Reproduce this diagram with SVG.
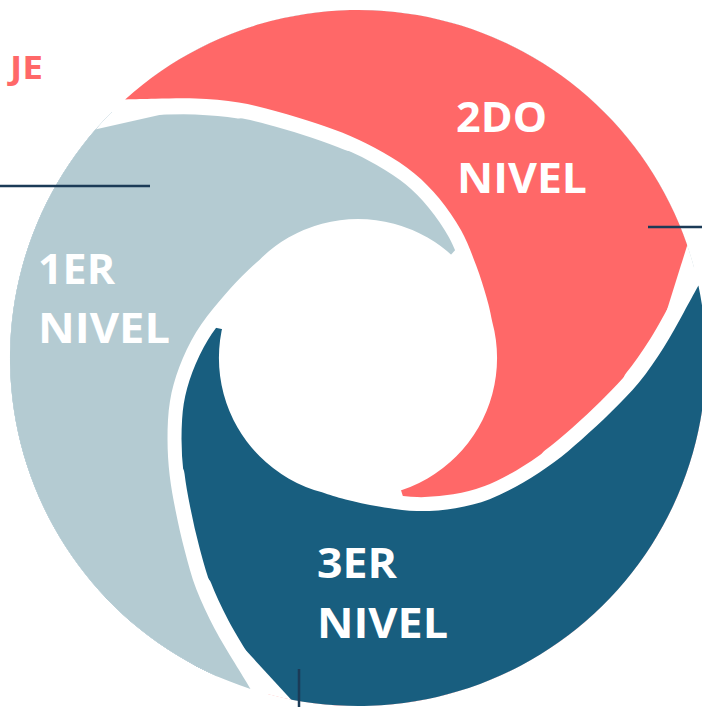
<svg xmlns="http://www.w3.org/2000/svg" width="702" height="707" viewBox="0 0 702 707">
<defs>
<style>
.lbl{font-family:"Open Sans","Liberation Sans",sans-serif;font-weight:700;font-size:42px;fill:#ffffff}
.tag{font-family:"Open Sans","Liberation Sans",sans-serif;font-weight:700;font-size:32px;fill:#FF6868}
.conn{stroke:#1b3b57;stroke-width:2.5;fill:none}
.gap{fill:none;stroke:#000000;stroke-linecap:round}
</style>
<path id="U" d="M125.1,99.4 A348,348 0 1 1 267.9,694.1 L322.0,492.3 A139,139 0 0 0 492.3,322.0 C490.7,314.0 489.4,307.4 486.7,298.0 C484.0,288.6 480.5,276.8 476.2,265.6 C472.0,254.4 467.4,241.8 461.2,230.6 C455.1,219.4 447.1,208.0 439.3,198.5 C431.5,189.0 423.8,181.1 414.4,173.4 C405.1,165.8 393.9,158.8 383.2,152.6 C372.5,146.4 361.4,140.9 350.3,136.1 C339.2,131.3 328.8,127.7 316.7,123.6 C304.7,119.5 291.0,115.2 278.0,111.7 C265.0,108.2 252.5,104.6 238.8,102.4 C225.1,100.2 209.7,99.1 195.8,98.5 C181.9,97.9 167.2,98.6 155.4,98.7 C143.6,98.9 135.2,99.2 125.1,99.4 Z"/>
<path id="S" d="M95,100.1 L125.1,99.4 C135.2,99.2 143.6,98.9 155.4,98.7 C167.2,98.6 181.9,97.9 195.8,98.5 C209.7,99.1 225.1,100.2 238.8,102.4 C252.5,104.6 265.0,108.2 278.0,111.7 C291.0,115.2 304.7,119.5 316.7,123.6 C328.8,127.7 339.2,131.3 350.3,136.1 C361.4,140.9 372.5,146.4 383.2,152.6 C393.9,158.8 405.1,165.8 414.4,173.4 C423.8,181.1 431.5,189.0 439.3,198.5 C447.1,208.0 455.1,219.4 461.2,230.6 C467.4,241.8 472.0,254.4 476.2,265.6 C480.5,276.8 484.0,288.6 486.7,298.0 C489.4,307.4 490.7,314.0 492.3,322.0 A139,139 0 0 1 494.9,382.1"/>
<path id="S1" d="M95,100.1 L125.1,99.4 C135.2,99.2 143.6,98.9 155.4,98.7 C167.2,98.6 181.9,97.9 195.8,98.5 C209.7,99.1 225.1,100.2 238.8,102.4"/>
<path id="S2" d="M238.8,102.4 C252.5,104.6 265.0,108.2 278.0,111.7 C291.0,115.2 304.7,119.5 316.7,123.6 C328.8,127.7 339.2,131.3 350.3,136.1"/>
<mask id="cut" maskUnits="userSpaceOnUse" x="-100" y="-100" width="900" height="900">
<rect x="-100" y="-100" width="900" height="900" fill="#ffffff"/>
<use href="#U" transform="rotate(120 358 358)" fill="#000000"/>
<g transform="rotate(120 358 358)">
<use href="#S" class="gap" stroke-width="28"/>
<use href="#S2" class="gap" stroke-width="30"/>
<use href="#S1" class="gap" stroke-width="32"/>
</g>
<polygon points="690.5,234.8 666,312.9 700,330 740,240" fill="#000000"/>
<polygon points="388.9,453.1 419.8,548.2 258,531.2 308,444.6" fill="#000000"/>
</mask>
</defs>
<rect x="0" y="0" width="702" height="707" fill="#ffffff"/>
<text class="tag" x="10" y="79" textLength="33" lengthAdjust="spacingAndGlyphs">JE</text>
<g id="nivel2">
<use href="#U" fill="#FF6868" mask="url(#cut)"/>
<text class="lbl" x="456" y="132" textLength="91" lengthAdjust="spacingAndGlyphs">2DO</text>
<text class="lbl" x="457" y="193" textLength="130" lengthAdjust="spacingAndGlyphs">NIVEL</text>
</g>
<g id="nivel3">
<use href="#U" fill="#185E7F" mask="url(#cut)" transform="rotate(120 358 358)"/>
<text class="lbl" x="317" y="578" textLength="80" lengthAdjust="spacingAndGlyphs">3ER</text>
<text class="lbl" x="317" y="638" textLength="131" lengthAdjust="spacingAndGlyphs">NIVEL</text>
</g>
<g id="nivel1">
<use href="#U" fill="#B4CBD2" mask="url(#cut)" transform="rotate(240 358 358)"/>
<text class="lbl" x="38" y="284" textLength="77" lengthAdjust="spacingAndGlyphs">1ER</text>
<text class="lbl" x="38" y="343" textLength="132" lengthAdjust="spacingAndGlyphs">NIVEL</text>
</g>
<g id="connectors">
<line class="conn" x1="0" y1="186" x2="150" y2="186"/>
<line class="conn" x1="648" y1="227" x2="702" y2="227"/>
<line class="conn" x1="299" y1="669" x2="299" y2="707"/>
</g>
</svg>
